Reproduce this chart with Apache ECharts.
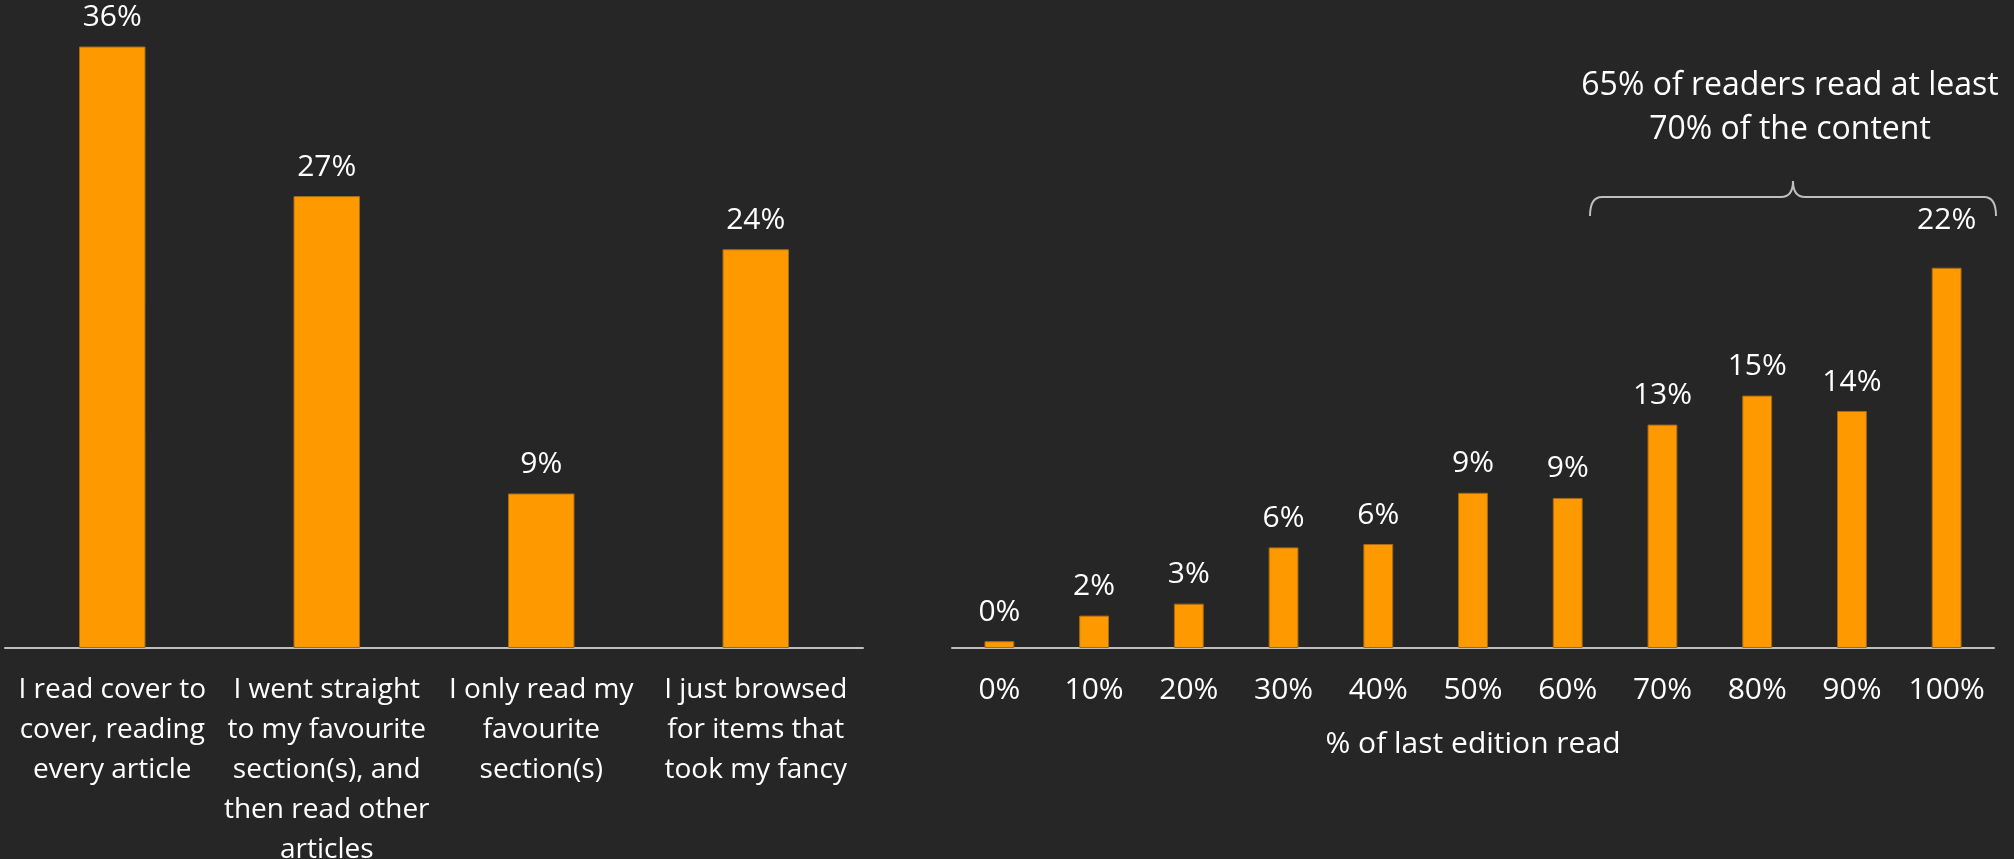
<!DOCTYPE html>
<html>
<head>
<meta charset="utf-8">
<title>Reading habits</title>
<script src="https://cdn.jsdelivr.net/npm/echarts@6/dist/echarts.min.js"></script>
<style>
  html, body { margin: 0; padding: 0; background: #262626; }
  #chart { width: 2014px; height: 859px; }
</style>
</head>
<body>
<div id="chart"></div>
<script>
// How readers approached the last edition
const habitCategories = [
  'I read cover to\ncover, reading\nevery article',
  'I went straight\nto my favourite\nsection(s), and\nthen read other\narticles',
  'I only read my\nfavourite\nsection(s)',
  'I just browsed\nfor items that\ntook my fancy'
];
const habitShares = [36.2, 27.2, 9.3, 24.0];

// Share of the last edition that was read
const readCategories = ['0%', '10%', '20%', '30%', '40%', '50%', '60%', '70%', '80%', '90%', '100%'];
const readShares = [0.4, 1.9, 2.6, 5.9, 6.1, 9.1, 8.8, 13.1, 14.8, 13.9, 22.3];
const readAxisName = '% of last edition read';

const noteLines = ['65% of readers read at least', '70% of the content'];

const FONT = '"Open Sans", Lato, sans-serif';
const ORANGE = '#ff9900';
const AXIS_GREY = '#bfbfbf';
const TEXT = '#ffffff';

const chart = echarts.init(document.getElementById('chart'));

const pct = p => Math.round(p.value) + '%';

const barLabel = {
  show: true,
  position: 'top',
  distance: 14,
  color: TEXT,
  fontFamily: FONT,
  fontSize: 30,
  lineHeight: 30,
  formatter: pct
};

const catAxisBase = {
  type: 'category',
  axisLine: { show: true, lineStyle: { color: AXIS_GREY, width: 2 } },
  axisTick: { show: false },
  splitLine: { show: false },
  axisLabel: {
    color: TEXT,
    fontFamily: FONT,
    fontSize: 30,
    lineHeight: 40,
    margin: 22,
    interval: 0
  }
};

// the last bar's label sits a little higher, clear of the brace
const readData = readShares.map((v, i) =>
  i === readShares.length - 1 ? { value: v, label: { distance: 32 } } : v
);

// curly brace above the 70%–100% bars, built from straight and curved strokes
const braceStyle = { stroke: AXIS_GREY, lineWidth: 2, fill: null };
const braceLeft = 1590, braceRight = 1996, braceMid = 1793, braceY = 197, braceFoot = 216, braceTip = 181, r = 12;
const brace = [
  { type: 'bezierCurve', shape: { x1: braceLeft, y1: braceFoot, cpx1: braceLeft, cpy1: braceY, x2: braceLeft + r, y2: braceY }, style: braceStyle },
  { type: 'line', shape: { x1: braceLeft + r, y1: braceY, x2: braceMid - r, y2: braceY }, style: braceStyle },
  { type: 'bezierCurve', shape: { x1: braceMid - r, y1: braceY, cpx1: braceMid, cpy1: braceY, x2: braceMid, y2: braceTip }, style: braceStyle },
  { type: 'bezierCurve', shape: { x1: braceMid, y1: braceTip, cpx1: braceMid, cpy1: braceY, x2: braceMid + r, y2: braceY }, style: braceStyle },
  { type: 'line', shape: { x1: braceMid + r, y1: braceY, x2: braceRight - r, y2: braceY }, style: braceStyle },
  { type: 'bezierCurve', shape: { x1: braceRight - r, y1: braceY, cpx1: braceRight, cpy1: braceY, x2: braceRight, y2: braceFoot }, style: braceStyle }
];

chart.setOption({
  backgroundColor: '#262626',
  animation: false,
  grid: [
    { left: 5, right: 1151, top: 0, bottom: 211, containLabel: false, outerBoundsMode: 'none' },
    { left: 952, right: 20, top: 0, bottom: 211, containLabel: false, outerBoundsMode: 'none' }
  ],
  xAxis: [
    Object.assign({}, catAxisBase, {
      gridIndex: 0,
      data: habitCategories,
      axisLabel: Object.assign({}, catAxisBase.axisLabel, { fontSize: 28, lineHeight: 40 })
    }),
    Object.assign({}, catAxisBase, {
      gridIndex: 1,
      data: readCategories,
      name: readAxisName,
      nameLocation: 'middle',
      nameGap: 78,
      nameTextStyle: { color: TEXT, fontFamily: FONT, fontSize: 30, lineHeight: 36 }
    })
  ],
  yAxis: [
    { type: 'value', gridIndex: 0, min: 0, max: 39, show: false, splitLine: { show: false } },
    { type: 'value', gridIndex: 1, min: 0, max: 38, show: false, splitLine: { show: false } }
  ],
  series: [
    {
      type: 'bar',
      xAxisIndex: 0,
      yAxisIndex: 0,
      data: habitShares,
      barWidth: '31%',
      itemStyle: { color: ORANGE, borderColor: '#a86a12', borderWidth: 1 },
      label: barLabel
    },
    {
      type: 'bar',
      xAxisIndex: 1,
      yAxisIndex: 1,
      data: readData,
      barWidth: '31.5%',
      itemStyle: { color: ORANGE, borderColor: '#a86a12', borderWidth: 1 },
      label: barLabel
    }
  ],
  graphic: [
    {
      type: 'text',
      x: 1790,
      y: 108,
      style: {
        text: noteLines.join('\n'),
        fill: TEXT,
        fontFamily: FONT,
        fontSize: 32,
        lineHeight: 44,
        align: 'center',
        verticalAlign: 'middle'
      }
    }
  ].concat(brace)
});
</script>
</body>
</html>
